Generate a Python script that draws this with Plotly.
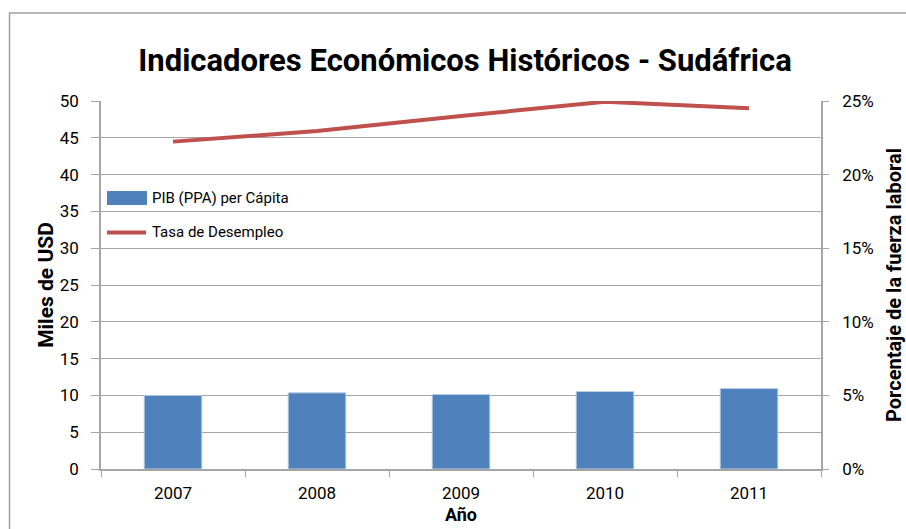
import plotly.graph_objects as go

years = ["2007", "2008", "2009", "2010", "2011"]
pib_ppa = [10.0, 10.35, 10.12, 10.53, 10.93]
desempleo = [22.24, 22.96, 23.98, 24.95, 24.5]
left_ticks = [0, 5, 10, 15, 20, 25, 30, 35, 40, 45, 50]
right_ticks = [0, 5, 10, 15, 20, 25]
legend_names = ["PIB (PPA) per Cápita", "Tasa de Desempleo"]

FONT = "Roboto, Liberation Sans, sans-serif"
GRID = "#a6a6a6"
BLUE = "#4f81bd"
RED = "#c0504d"

W, H = 906, 529
L, T = 101, 101
PW, PH = 720, 368
R, B = W - L - PW, H - T - PH


def px(x):
    return (x - L) / PW


def py(y):
    return (T + PH - y) / PH


fig = go.Figure()
fig.add_trace(go.Bar(
    x=years, y=pib_ppa, name=legend_names[0],
    marker=dict(color=BLUE, line=dict(color="#b9cde5", width=1)),
    width=0.4, yaxis="y", showlegend=False,
))
fig.add_trace(go.Scatter(
    x=years, y=desempleo, name=legend_names[1], mode="lines",
    line=dict(color=RED, width=4), yaxis="y2", showlegend=False,
))

shapes = [
    dict(type="rect", xref="paper", yref="paper",
         x0=px(9.5), x1=1.4, y0=-0.4, y1=py(13),
         line=dict(color="#a0a0a0", width=1.5), layer="below"),
    dict(type="rect", xref="paper", yref="paper",
         x0=px(107), x1=px(147), y0=py(205), y1=py(191),
         fillcolor=BLUE, line=dict(width=0)),
    dict(type="line", xref="paper", yref="paper",
         x0=px(107), x1=px(146), y0=py(232.5), y1=py(232.5),
         line=dict(color=RED, width=4)),
]
annotations = [
    dict(text=legend_names[0], xref="paper", yref="paper", x=px(150), y=py(198),
         xanchor="left", yanchor="middle", showarrow=False, font=dict(size=15)),
    dict(text=legend_names[1], xref="paper", yref="paper", x=px(150), y=py(232),
         xanchor="left", yanchor="middle", showarrow=False, font=dict(size=15)),
]

fig.update_layout(
    width=W, height=H,
    margin=dict(l=L, r=R, t=T, b=B, autoexpand=False),
    paper_bgcolor="white", plot_bgcolor="white",
    font=dict(family=FONT, size=16, color="black"),
    showlegend=False,
    title=dict(text="<b>Indicadores Económicos Históricos - Sudáfrica</b>",
               x=465 / W, xanchor="center", y=1 - 60 / H, yanchor="middle",
               font=dict(size=31, family=FONT), automargin=False),
    xaxis=dict(type="category", showgrid=False, showline=True, linecolor=GRID,
               linewidth=1.5, ticks="outside", tickson="boundaries", ticklen=6,
               tickcolor=GRID, tickfont=dict(size=17), ticklabelstandoff=8,
               automargin=False,
               title=dict(text="<b>Año</b>", standoff=6, font=dict(size=18))),
    yaxis=dict(range=[0, 50], tickvals=left_ticks, showgrid=True, gridcolor=GRID,
               gridwidth=1.2, showline=True, linecolor=GRID, linewidth=1.5,
               ticks="outside", ticklen=8, tickcolor=GRID, zeroline=False,
               tickfont=dict(size=17), ticklabelstandoff=9, automargin=False,
               title=dict(text="<b>Miles de USD</b>", standoff=0, font=dict(size=21))),
    yaxis2=dict(range=[0, 25], tickvals=right_ticks,
                ticktext=[f"{v}%" for v in right_ticks],
                overlaying="y", side="right", showgrid=False, showline=True,
                linecolor=GRID, linewidth=1.5, ticks="outside", ticklen=6,
                tickcolor=GRID, zeroline=False, tickfont=dict(size=17),
                ticklabelstandoff=10, automargin=False,
                title=dict(text="<b>Porcentaje de la fuerza laboral</b>", standoff=15,
                           font=dict(size=20))),
    shapes=shapes,
    annotations=annotations,
)

fig.write_html("out.html", config={"displayModeBar": False},
               post_script="document.body.style.margin='0';document.body.style.overflow='hidden';")
